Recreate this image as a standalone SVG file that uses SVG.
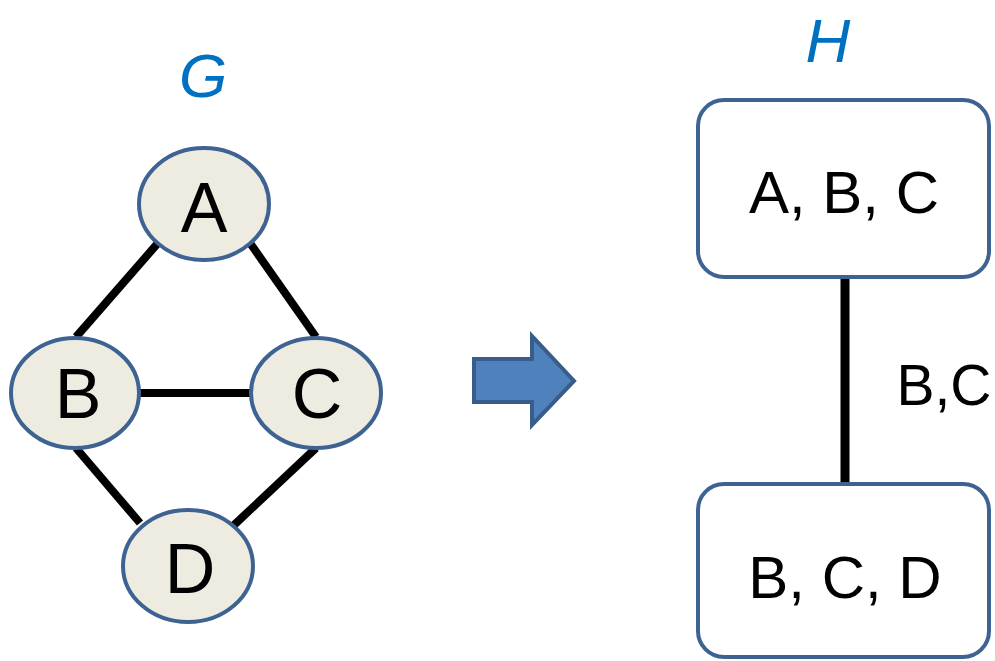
<svg xmlns="http://www.w3.org/2000/svg" width="995" height="661" viewBox="0 0 995 661">
<style>
.node ellipse{fill:#eeece1;stroke:#3e6393;stroke-width:4}
.box rect{fill:#fff;stroke:#3e6393;stroke-width:4}
.lbl{font-family:"Liberation Sans",Arial,sans-serif;fill:#000;text-anchor:middle}
.title{font-family:"Liberation Sans",Arial,sans-serif;font-style:italic;fill:#0070c0;text-anchor:middle;font-size:62px}
.edges line{stroke:#000;stroke-width:8}
</style>
<rect width="995" height="661" fill="#fff"/>
<text class="title" x="203" y="97">G</text>
<text class="title" x="828" y="62">H</text>
<g class="edges" id="connectors">
<line x1="158" y1="243" x2="76" y2="337"/>
<line x1="250" y1="243" x2="316" y2="337"/>
<line x1="139" y1="393" x2="251" y2="393"/>
<line x1="76" y1="448" x2="140" y2="523"/>
<line x1="316" y1="448" x2="233" y2="526"/>
<line x1="845" y1="278" x2="845" y2="483" style="stroke-width:9"/>
</g>
<g class="node" id="nodeA"><ellipse cx="204" cy="204" rx="65" ry="56"/><text class="lbl" x="204" y="232" font-size="70">A</text></g>
<g class="node" id="nodeB"><ellipse cx="75" cy="393" rx="64" ry="55"/><text class="lbl" x="78" y="418" font-size="70">B</text></g>
<g class="node" id="nodeC"><ellipse cx="316" cy="393" rx="65" ry="55"/><text class="lbl" x="317" y="418" font-size="70">C</text></g>
<g class="node" id="nodeD"><ellipse cx="188" cy="566" rx="65" ry="56"/><text class="lbl" x="190" y="593" font-size="70">D</text></g>
<g id="arrow"><polygon points="474,359 532,359 532,336 574,381 532,425 532,402 474,402" fill="#4f81bd" stroke="#385d8a" stroke-width="4" stroke-linejoin="miter"/></g>
<g class="box" id="boxABC"><rect x="698" y="100" width="291" height="177" rx="26"/><text class="lbl" x="844" y="213" font-size="60">A, B, C</text></g>
<g class="box" id="boxBCD"><rect x="698" y="484" width="291" height="173" rx="26"/><text class="lbl" x="845" y="598" font-size="60">B, C, D</text></g>
<text class="lbl" x="944" y="405" font-size="57">B,C</text>
</svg>
